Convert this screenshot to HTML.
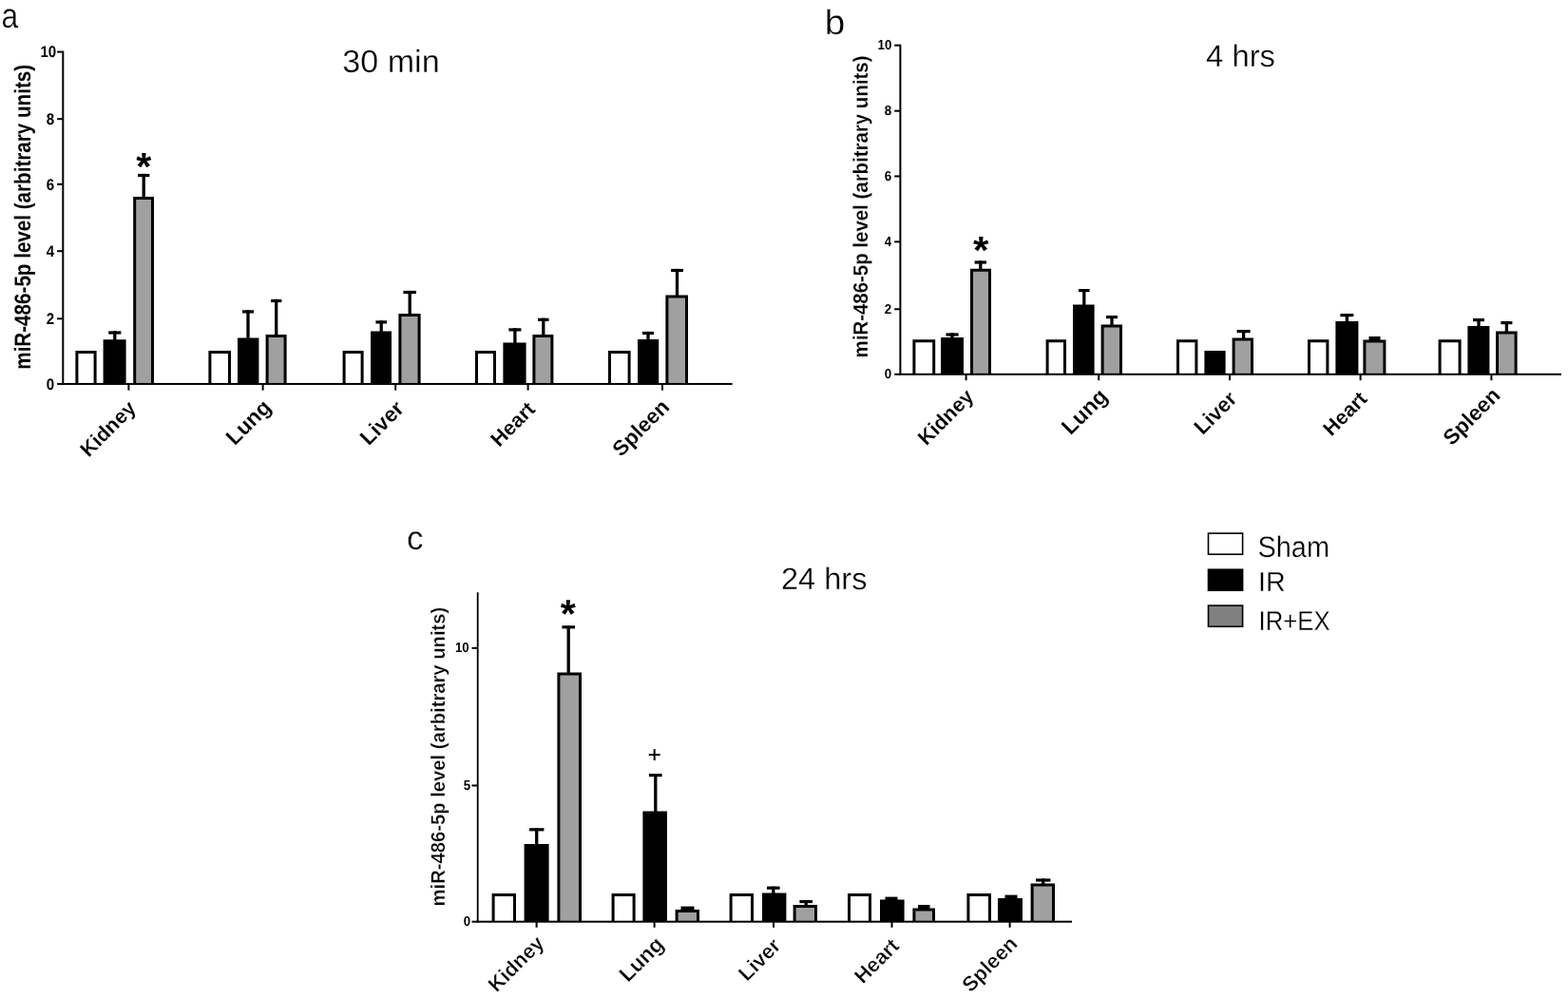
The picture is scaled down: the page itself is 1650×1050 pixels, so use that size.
<!DOCTYPE html>
<html lang="en"><head><meta charset="utf-8"><title>miR-486-5p levels in organs after IR and exosome treatment</title>
<style>html,body{margin:0;padding:0;background:#fff;}body{width:1650px;height:1050px;overflow:hidden;}svg{display:block;}text{font-family:'Liberation Sans', Arial, Helvetica, sans-serif;fill:#000;text-rendering:geometricPrecision;}</style>
</head><body>
<svg width="1650" height="1050" viewBox="0 0 1650 1050">
<rect width="1650" height="1050" fill="#fff"/>
<g id="panel-a">
<path d="M80.90 403.95V370.50H100.10V403.95" fill="#fff" stroke="#000" stroke-width="3.0"/>
<rect x="119.15" y="348.40" width="3.3" height="9.80" fill="#000"/>
<rect x="114.20" y="348.40" width="13.20" height="3.2" fill="#000"/>
<path d="M110.10 403.95V358.70H131.10V403.95" fill="#000" stroke="#000" stroke-width="3.0"/>
<rect x="149.55" y="182.90" width="3.3" height="25.10" fill="#000"/>
<rect x="145.00" y="182.90" width="12.40" height="3.2" fill="#000"/>
<path d="M141.70 403.95V208.50H160.50V403.95" fill="#a0a0a0" stroke="#000" stroke-width="3.0"/>
<path d="M220.90 403.95V370.50H241.50V403.95" fill="#fff" stroke="#000" stroke-width="3.0"/>
<rect x="259.35" y="326.30" width="3.3" height="30.30" fill="#000"/>
<rect x="255.00" y="326.30" width="12.00" height="3.2" fill="#000"/>
<path d="M251.50 403.95V357.10H270.90V403.95" fill="#000" stroke="#000" stroke-width="3.0"/>
<rect x="289.05" y="314.90" width="3.3" height="38.10" fill="#000"/>
<rect x="285.00" y="314.90" width="11.40" height="3.2" fill="#000"/>
<path d="M281.10 403.95V353.50H300.10V403.95" fill="#a0a0a0" stroke="#000" stroke-width="3.0"/>
<path d="M362.10 403.95V370.50H381.10V403.95" fill="#fff" stroke="#000" stroke-width="3.0"/>
<rect x="399.55" y="337.30" width="3.3" height="12.10" fill="#000"/>
<rect x="395.40" y="337.30" width="11.60" height="3.2" fill="#000"/>
<path d="M391.50 403.95V349.90H410.50V403.95" fill="#000" stroke="#000" stroke-width="3.0"/>
<rect x="429.55" y="305.90" width="3.3" height="25.10" fill="#000"/>
<rect x="424.40" y="305.90" width="13.60" height="3.2" fill="#000"/>
<path d="M420.90 403.95V331.50H441.10V403.95" fill="#a0a0a0" stroke="#000" stroke-width="3.0"/>
<path d="M501.50 403.95V370.50H520.50V403.95" fill="#fff" stroke="#000" stroke-width="3.0"/>
<rect x="540.25" y="345.30" width="3.3" height="16.30" fill="#000"/>
<rect x="535.40" y="345.30" width="13.00" height="3.2" fill="#000"/>
<path d="M530.90 403.95V362.10H552.10V403.95" fill="#000" stroke="#000" stroke-width="3.0"/>
<rect x="570.15" y="334.70" width="3.3" height="18.30" fill="#000"/>
<rect x="566.00" y="334.70" width="11.60" height="3.2" fill="#000"/>
<path d="M561.90 403.95V353.50H580.90V403.95" fill="#a0a0a0" stroke="#000" stroke-width="3.0"/>
<path d="M641.50 403.95V370.50H662.10V403.95" fill="#fff" stroke="#000" stroke-width="3.0"/>
<rect x="680.35" y="348.90" width="3.3" height="9.10" fill="#000"/>
<rect x="676.00" y="348.90" width="12.00" height="3.2" fill="#000"/>
<path d="M672.50 403.95V358.50H691.70V403.95" fill="#000" stroke="#000" stroke-width="3.0"/>
<rect x="710.85" y="282.90" width="3.3" height="28.70" fill="#000"/>
<rect x="706.00" y="282.90" width="13.00" height="3.2" fill="#000"/>
<path d="M701.90 403.95V312.10H722.50V403.95" fill="#a0a0a0" stroke="#000" stroke-width="3.0"/>
<rect x="65.30" y="53.60" width="2.0" height="351.35" fill="#000"/>
<rect x="65.30" y="402.95" width="705.30" height="2.0" fill="#000"/>
<rect x="60.10" y="402.95" width="5.70" height="2.0" fill="#000"/>
<text transform="translate(57.28,409.83) scale(0.9,1)" font-size="16.8" font-weight="bold" text-anchor="end">0</text>
<rect x="60.10" y="334.28" width="5.70" height="2.0" fill="#000"/>
<text transform="translate(57.28,341.16) scale(0.9,1)" font-size="16.8" font-weight="bold" text-anchor="end">2</text>
<rect x="60.10" y="263.21" width="5.70" height="2.0" fill="#000"/>
<text transform="translate(57.28,270.09) scale(0.9,1)" font-size="16.8" font-weight="bold" text-anchor="end">4</text>
<rect x="60.10" y="192.84" width="5.70" height="2.0" fill="#000"/>
<text transform="translate(57.28,199.72) scale(0.9,1)" font-size="16.8" font-weight="bold" text-anchor="end">6</text>
<rect x="60.10" y="124.17" width="5.70" height="2.0" fill="#000"/>
<text transform="translate(57.28,131.05) scale(0.9,1)" font-size="16.8" font-weight="bold" text-anchor="end">8</text>
<rect x="60.10" y="53.60" width="5.70" height="2.0" fill="#000"/>
<text transform="translate(59.18,60.48) scale(0.9,1)" font-size="16.8" font-weight="bold" text-anchor="end">10</text>
<rect x="134.40" y="403.95" width="2" height="6.70" fill="#000"/>
<rect x="275.60" y="403.95" width="2" height="6.70" fill="#000"/>
<rect x="415.20" y="403.95" width="2" height="6.70" fill="#000"/>
<rect x="554.60" y="403.95" width="2" height="6.70" fill="#000"/>
<rect x="696.00" y="403.95" width="2" height="6.70" fill="#000"/>
<text id="xa_Kidney" transform="translate(144.14,430.85) rotate(-45)" font-size="21.58" font-weight="bold" text-anchor="end" stroke="#fff" stroke-width="0.12">Kidney</text>
<text id="xa_Lung" transform="translate(286.54,429.98) rotate(-45)" font-size="22.83" font-weight="bold" text-anchor="end" stroke="#fff" stroke-width="0.12">Lung</text>
<text id="xa_Liver" transform="translate(426.32,431.22) rotate(-45)" font-size="22.64" font-weight="bold" text-anchor="end" stroke="#fff" stroke-width="0.12">Liver</text>
<text id="xa_Heart" transform="translate(564.41,431.78) rotate(-45)" font-size="21.68" font-weight="bold" text-anchor="end" stroke="#fff" stroke-width="0.12">Heart</text>
<text id="xa_Spleen" transform="translate(705.57,429.54) rotate(-45)" font-size="22.42" font-weight="bold" text-anchor="end" stroke="#fff" stroke-width="0.12">Spleen</text>
<text id="ya" transform="translate(31.73,388.70) rotate(-90) scale(0.8630,1)" font-size="23.90" font-weight="bold">miR-486-5p level (arbitrary units)</text>
<text id="sa" transform="translate(143.36,188.55) scale(1.0132,1)" font-size="40.74" font-weight="bold">*</text>
</g>
<g id="panel-b">
<path d="M961.90 393.80V358.70H982.70V393.80" fill="#fff" stroke="#000" stroke-width="3.0"/>
<rect x="1000.35" y="350.40" width="3.3" height="5.60" fill="#000"/>
<rect x="995.40" y="350.40" width="13.20" height="3.2" fill="#000"/>
<path d="M991.50 393.80V356.50H1012.50V393.80" fill="#000" stroke="#000" stroke-width="3.0"/>
<rect x="1030.15" y="274.40" width="3.3" height="9.40" fill="#000"/>
<rect x="1025.60" y="274.40" width="12.40" height="3.2" fill="#000"/>
<path d="M1022.50 393.80V284.30H1041.50V393.80" fill="#a0a0a0" stroke="#000" stroke-width="3.0"/>
<path d="M1102.10 393.80V358.70H1120.50V393.80" fill="#fff" stroke="#000" stroke-width="3.0"/>
<rect x="1139.15" y="304.00" width="3.3" height="17.60" fill="#000"/>
<rect x="1135.00" y="304.00" width="11.60" height="3.2" fill="#000"/>
<path d="M1130.50 393.80V322.10H1150.10V393.80" fill="#000" stroke="#000" stroke-width="3.0"/>
<rect x="1168.35" y="332.00" width="3.3" height="10.40" fill="#000"/>
<rect x="1164.00" y="332.00" width="12.00" height="3.2" fill="#000"/>
<path d="M1160.10 393.80V342.90H1179.50V393.80" fill="#a0a0a0" stroke="#000" stroke-width="3.0"/>
<path d="M1239.50 393.80V358.70H1258.90V393.80" fill="#fff" stroke="#000" stroke-width="3.0"/>
<path d="M1268.90 393.80V370.50H1288.10V393.80" fill="#000" stroke="#000" stroke-width="3.0"/>
<rect x="1306.95" y="347.00" width="3.3" height="9.60" fill="#000"/>
<rect x="1301.60" y="347.00" width="14.00" height="3.2" fill="#000"/>
<path d="M1298.10 393.80V357.10H1317.50V393.80" fill="#a0a0a0" stroke="#000" stroke-width="3.0"/>
<path d="M1377.50 393.80V358.70H1396.90V393.80" fill="#fff" stroke="#000" stroke-width="3.0"/>
<rect x="1415.75" y="330.00" width="3.3" height="9.00" fill="#000"/>
<rect x="1410.40" y="330.00" width="14.00" height="3.2" fill="#000"/>
<path d="M1406.90 393.80V339.50H1427.90V393.80" fill="#000" stroke="#000" stroke-width="3.0"/>
<rect x="1440.50" y="354.00" width="12.00" height="4.40" fill="#000"/>
<path d="M1435.90 393.80V358.90H1456.90V393.80" fill="#a0a0a0" stroke="#000" stroke-width="3.0"/>
<path d="M1515.10 393.80V358.70H1536.10V393.80" fill="#fff" stroke="#000" stroke-width="3.0"/>
<rect x="1554.35" y="335.00" width="3.3" height="9.00" fill="#000"/>
<rect x="1550.00" y="335.00" width="12.00" height="3.2" fill="#000"/>
<path d="M1545.90 393.80V344.50H1565.90V393.80" fill="#000" stroke="#000" stroke-width="3.0"/>
<rect x="1583.75" y="338.00" width="3.3" height="11.40" fill="#000"/>
<rect x="1579.40" y="338.00" width="12.00" height="3.2" fill="#000"/>
<path d="M1575.50 393.80V349.90H1595.10V393.80" fill="#a0a0a0" stroke="#000" stroke-width="3.0"/>
<rect x="946.40" y="46.70" width="2.0" height="348.10" fill="#000"/>
<rect x="946.40" y="392.80" width="696.60" height="2.0" fill="#000"/>
<rect x="941.20" y="392.80" width="5.70" height="2.0" fill="#000"/>
<text transform="translate(938.20,398.24) scale(0.93,1)" font-size="14.4" font-weight="bold" text-anchor="end">0</text>
<rect x="941.20" y="324.28" width="5.70" height="2.0" fill="#000"/>
<text transform="translate(938.20,329.72) scale(0.93,1)" font-size="14.4" font-weight="bold" text-anchor="end">2</text>
<rect x="941.20" y="253.36" width="5.70" height="2.0" fill="#000"/>
<text transform="translate(938.20,258.80) scale(0.93,1)" font-size="14.4" font-weight="bold" text-anchor="end">4</text>
<rect x="941.20" y="184.44" width="5.70" height="2.0" fill="#000"/>
<text transform="translate(938.20,189.88) scale(0.93,1)" font-size="14.4" font-weight="bold" text-anchor="end">6</text>
<rect x="941.20" y="115.67" width="5.70" height="2.0" fill="#000"/>
<text transform="translate(938.20,121.11) scale(0.93,1)" font-size="14.4" font-weight="bold" text-anchor="end">8</text>
<rect x="941.20" y="46.70" width="5.70" height="2.0" fill="#000"/>
<text transform="translate(938.50,52.14) scale(0.93,1)" font-size="14.4" font-weight="bold" text-anchor="end">10</text>
<rect x="1015.60" y="393.80" width="2" height="6.40" fill="#000"/>
<rect x="1155.20" y="393.80" width="2" height="6.40" fill="#000"/>
<rect x="1293.00" y="393.80" width="2" height="6.40" fill="#000"/>
<rect x="1430.60" y="393.80" width="2" height="6.40" fill="#000"/>
<rect x="1568.40" y="393.80" width="2" height="6.40" fill="#000"/>
<text id="xb_Kidney" transform="translate(1025.68,418.59) rotate(-45)" font-size="21.63" font-weight="bold" text-anchor="end" stroke="#fff" stroke-width="0.12">Kidney</text>
<text id="xb_Lung" transform="translate(1166.83,418.33) rotate(-45)" font-size="23.31" font-weight="bold" text-anchor="end" stroke="#fff" stroke-width="0.12">Lung</text>
<text id="xb_Liver" transform="translate(1302.83,421.04) rotate(-45)" font-size="22.09" font-weight="bold" text-anchor="end" stroke="#fff" stroke-width="0.12">Liver</text>
<text id="xb_Heart" transform="translate(1439.83,420.98) rotate(-45)" font-size="21.45" font-weight="bold" text-anchor="end" stroke="#fff" stroke-width="0.12">Heart</text>
<text id="xb_Spleen" transform="translate(1579.92,417.36) rotate(-45)" font-size="22.55" font-weight="bold" text-anchor="end" stroke="#fff" stroke-width="0.12">Spleen</text>
<text id="yb" transform="translate(913.07,376.46) rotate(-90) scale(0.9441,1)" font-size="21.65" font-weight="bold" stroke="#fff" stroke-width="0.15">miR-486-5p level (arbitrary units)</text>
<text id="sb" transform="translate(1023.90,276.61) scale(1.0396,1)" font-size="40.69" font-weight="bold">*</text>
</g>
<g id="panel-c">
<path d="M519.10 969.70V941.50H541.50V969.70" fill="#fff" stroke="#000" stroke-width="3.0"/>
<rect x="563.05" y="871.20" width="3.3" height="17.80" fill="#000"/>
<rect x="557.00" y="871.20" width="15.40" height="3.2" fill="#000"/>
<path d="M553.10 969.70V889.50H576.10V969.70" fill="#000" stroke="#000" stroke-width="3.0"/>
<rect x="596.55" y="658.20" width="3.3" height="50.20" fill="#000"/>
<rect x="591.40" y="658.20" width="13.60" height="3.2" fill="#000"/>
<path d="M587.90 969.70V708.90H610.50V969.70" fill="#a0a0a0" stroke="#000" stroke-width="3.0"/>
<path d="M645.10 969.70V941.50H667.10V969.70" fill="#fff" stroke="#000" stroke-width="3.0"/>
<rect x="688.15" y="814.00" width="3.3" height="40.60" fill="#000"/>
<rect x="683.00" y="814.00" width="13.60" height="3.2" fill="#000"/>
<path d="M677.90 969.70V855.10H700.50V969.70" fill="#000" stroke="#000" stroke-width="3.0"/>
<rect x="716.50" y="953.60" width="14.00" height="4.40" fill="#000"/>
<path d="M712.10 969.70V958.50H734.50V969.70" fill="#a0a0a0" stroke="#000" stroke-width="3.0"/>
<path d="M769.10 969.70V941.50H791.50V969.70" fill="#fff" stroke="#000" stroke-width="3.0"/>
<rect x="812.15" y="932.60" width="3.3" height="8.00" fill="#000"/>
<rect x="807.00" y="932.60" width="13.60" height="3.2" fill="#000"/>
<path d="M803.50 969.70V941.10H825.90V969.70" fill="#000" stroke="#000" stroke-width="3.0"/>
<rect x="846.55" y="947.00" width="3.3" height="6.00" fill="#000"/>
<rect x="841.40" y="947.00" width="13.60" height="3.2" fill="#000"/>
<path d="M836.10 969.70V953.50H858.50V969.70" fill="#a0a0a0" stroke="#000" stroke-width="3.0"/>
<path d="M893.50 969.70V941.50H915.50V969.70" fill="#fff" stroke="#000" stroke-width="3.0"/>
<rect x="931.50" y="943.60" width="13.00" height="3.80" fill="#000"/>
<path d="M927.50 969.70V947.90H950.10V969.70" fill="#000" stroke="#000" stroke-width="3.0"/>
<rect x="966.10" y="952.00" width="12.40" height="4.40" fill="#000"/>
<path d="M961.90 969.70V956.90H982.50V969.70" fill="#a0a0a0" stroke="#000" stroke-width="3.0"/>
<path d="M1018.90 969.70V941.50H1041.50V969.70" fill="#fff" stroke="#000" stroke-width="3.0"/>
<rect x="1057.50" y="941.60" width="13.00" height="4.40" fill="#000"/>
<path d="M1051.50 969.70V946.50H1074.50V969.70" fill="#000" stroke="#000" stroke-width="3.0"/>
<rect x="1096.05" y="924.40" width="3.3" height="6.00" fill="#000"/>
<rect x="1090.00" y="924.40" width="15.40" height="3.2" fill="#000"/>
<path d="M1086.10 969.70V930.90H1108.50V969.70" fill="#a0a0a0" stroke="#000" stroke-width="3.0"/>
<rect x="501.80" y="623.22" width="1.8" height="347.48" fill="#000"/>
<rect x="501.70" y="968.70" width="626.30" height="2.0" fill="#000"/>
<rect x="496.50" y="968.70" width="5.70" height="2.0" fill="#000"/>
<text transform="translate(495.00,973.84) scale(0.92,1)" font-size="14.4" font-weight="bold" text-anchor="end">0</text>
<rect x="496.50" y="825.45" width="5.70" height="2.0" fill="#000"/>
<text transform="translate(495.00,830.59) scale(0.92,1)" font-size="14.4" font-weight="bold" text-anchor="end">5</text>
<rect x="496.50" y="680.80" width="5.70" height="2.0" fill="#000"/>
<text transform="translate(493.70,685.94) scale(0.92,1)" font-size="14.4" font-weight="bold" text-anchor="end">10</text>
<rect x="563.60" y="969.70" width="2" height="6.10" fill="#000"/>
<rect x="687.60" y="969.70" width="2" height="6.10" fill="#000"/>
<rect x="813.00" y="969.70" width="2" height="6.10" fill="#000"/>
<rect x="937.50" y="969.70" width="2" height="6.10" fill="#000"/>
<rect x="1061.60" y="969.70" width="2" height="6.10" fill="#000"/>
<text id="xc_Kidney" transform="translate(573.83,993.59) rotate(-45)" font-size="21.73" font-weight="bold" text-anchor="end" stroke="#fff" stroke-width="0.35">Kidney</text>
<text id="xc_Lung" transform="translate(699.93,995.05) rotate(-45)" font-size="22.72" font-weight="bold" text-anchor="end" stroke="#fff" stroke-width="0.35">Lung</text>
<text id="xc_Liver" transform="translate(822.83,996.32) rotate(-45)" font-size="21.79" font-weight="bold" text-anchor="end" stroke="#fff" stroke-width="0.35">Liver</text>
<text id="xc_Heart" transform="translate(947.40,996.58) rotate(-45)" font-size="21.86" font-weight="bold" text-anchor="end" stroke="#fff" stroke-width="0.35">Heart</text>
<text id="xc_Spleen" transform="translate(1072.02,994.24) rotate(-45)" font-size="21.88" font-weight="bold" text-anchor="end" stroke="#fff" stroke-width="0.35">Spleen</text>
<text id="yc" transform="translate(468.14,953.41) rotate(-90) scale(0.9768,1)" font-size="20.71" font-weight="bold" stroke="#fff" stroke-width="0.3">miR-486-5p level (arbitrary units)</text>
<text id="sc" transform="translate(589.78,659.85) scale(0.9893,1)" font-size="41.73" font-weight="bold">*</text>
<text id="pc" transform="translate(681.87,801.87) scale(1.0094,1)" font-size="23.78" font-weight="normal" stroke="#000" stroke-width="0.25">+</text>
</g>
<g id="labels">
<text id="la" transform="translate(1.50,29.42) scale(0.8696,1)" font-size="36.51" font-weight="normal" stroke="#fff" stroke-width="0.3">a</text>
<text id="lb" transform="translate(867.75,36.28) scale(1.0598,1)" font-size="36.55" font-weight="normal" stroke="#fff" stroke-width="0.3">b</text>
<text id="lc" transform="translate(427.95,578.33) scale(0.9998,1)" font-size="34.94" font-weight="normal" stroke="#fff" stroke-width="0.3">c</text>
<text id="t30" transform="translate(360.20,75.75) scale(1.0227,1)" font-size="33.38" font-weight="normal" stroke="#fff" stroke-width="0.3">30 min</text>
<text id="t4" transform="translate(1269.00,70.25) scale(1.0148,1)" font-size="32.38" font-weight="normal" stroke="#fff" stroke-width="0.3">4 hrs</text>
<text id="t24" transform="translate(821.99,619.50) scale(1.0050,1)" font-size="32.38" font-weight="normal" stroke="#fff" stroke-width="0.3">24 hrs</text>
</g>
<g id="legend">
<rect x="1271.50" y="561.10" width="36.10" height="22.10" fill="#fff" stroke="#000" stroke-width="1.6"/>
<rect x="1271.50" y="599.20" width="36.10" height="22.00" fill="#000" stroke="#000" stroke-width="1.6"/>
<rect x="1271.50" y="637.10" width="36.10" height="22.10" fill="#808080" stroke="#000" stroke-width="1.6"/>
<text id="gS" transform="translate(1323.38,586.21) scale(0.9348,1)" font-size="30.98" font-weight="normal" stroke="#fff" stroke-width="0.3">Sham</text>
<text id="gI" transform="translate(1324.11,622.24) scale(0.9906,1)" font-size="28.97" font-weight="normal" stroke="#fff" stroke-width="0.3">IR</text>
<text id="gX" transform="translate(1324.57,663.27) scale(0.9003,1)" font-size="28.61" font-weight="normal" stroke="#fff" stroke-width="0.3">IR+EX</text>
</g>
</svg></body></html>
